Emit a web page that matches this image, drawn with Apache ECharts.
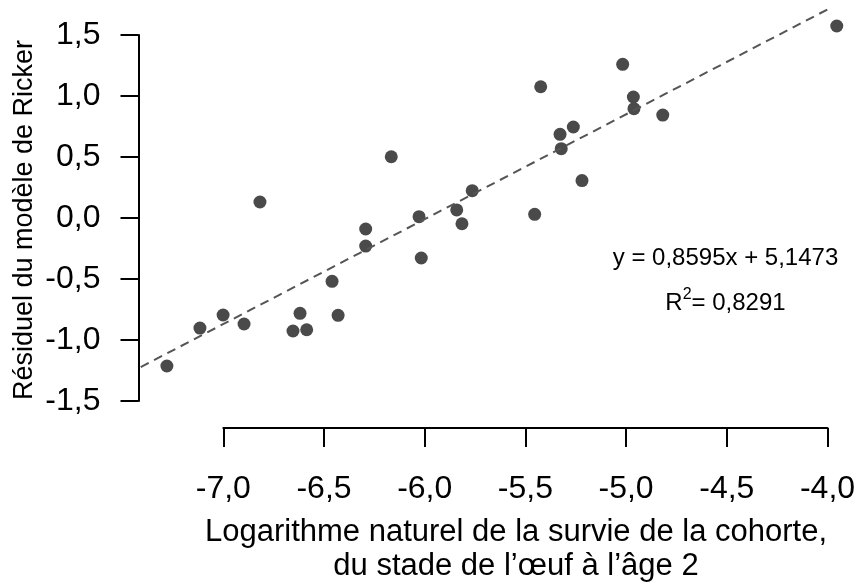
<!DOCTYPE html>
<html><head><meta charset="utf-8">
<script src="https://cdn.jsdelivr.net/npm/echarts@6/dist/echarts.min.js"></script>
<style>html,body{margin:0;padding:0;background:#fff}#c{width:860px;height:586px}</style>
</head><body><div id="c"></div>
<script>
// ---- data ----
const survieLog = [-7.280,-7.116,-7.001,-6.897,-6.818,-6.654,-6.619,-6.586,-6.460,-6.430,-6.293,-6.293,-6.166,-6.028,-6.017,-5.841,-5.815,-5.764,-5.454,-5.424,-5.328,-5.322,-5.262,-5.219,-5.017,-4.964,-4.961,-4.818,-3.954];
const residuRicker = [-1.213,-0.902,-0.795,-0.869,0.131,-0.926,-0.781,-0.916,-0.519,-0.798,-0.090,-0.230,0.502,0.011,-0.328,0.066,-0.047,0.224,0.030,1.076,0.686,0.568,0.746,0.307,1.260,0.992,0.896,0.844,1.574];
const xTicks = [-7,-6.5,-6,-5.5,-5,-4.5,-4];
const xTickLabels = ['-7,0','-6,5','-6,0','-5,5','-5,0','-4,5','-4,0'];
const yTicks = [-1.5,-1,-0.5,0,0.5,1,1.5];
const yTickLabels = ['-1,5','-1,0','-0,5','0,0','0,5','1,0','1,5'];
const slope = 0.8595, intercept = 5.1473;
const fitRange = [-7.41, -4.0];
const eqText = 'y = 0,8595x + 5,1473';
const r2Parts = ['R', '2', '= 0,8291'];
const xTitle = ['Logarithme naturel de la survie de la cohorte,', 'du stade de l\u2019\u0153uf \u00e0 l\u2019\u00e2ge 2'];
const yTitle = 'Résiduel du modèle de Ricker';

// ---- layout ----
const FONT = "'Liberation Sans', Arial, sans-serif";
const XPX0 = 223.3, XUNIT = 201.4;   // px of x=-7, px per unit
const YPX0 = 218, YUNIT = 122;       // px of y=0, px per unit
const W = 860;
const mainTop = 0, mainH = 380, mainLeft = 140;
const xmin = xTicks[0] - (XPX0 - mainLeft) / XUNIT;
const xmax = xTicks[0] + (W - XPX0) / XUNIT;
const ymax = (YPX0 - mainTop) / YUNIT;
const ymin = -(mainTop + mainH - YPX0) / YUNIT;

const pts = survieLog.map((x, i) => [x, residuRicker[i]]);
const fit = fitRange.map(x => [x, slope * x + intercept]);
const lab = (ticks, labels) => v => { const i = ticks.findIndex(t => Math.abs(t - v) < 1e-6); return i >= 0 ? labels[i] : ''; };
const centered = (extra) => Object.assign({ fill: '#000', align: 'center', verticalAlign: 'middle', textAlign: 'center', textVerticalAlign: 'middle' }, extra);

const chart = echarts.init(document.getElementById('c'), null, { renderer: 'canvas' });
chart.setOption({
  animation: false,
  backgroundColor: '#fff',
  grid: [
    { left: mainLeft, top: mainTop, width: W - mainLeft, height: mainH },
    { left: XPX0, top: 380, width: 3 * XUNIT, height: 48 },
    { left: 138.5, top: YPX0 - 1.5 * YUNIT, width: 10, height: 3 * YUNIT }
  ],
  xAxis: [
    { gridIndex: 0, type: 'value', min: xmin, max: xmax, show: false },
    { gridIndex: 1, type: 'value', min: -7, max: -4, interval: 0.5, position: 'bottom',
      axisLine: { show: true, onZero: false, lineStyle: { color: '#000', width: 2 } },
      axisTick: { show: true, length: 19, lineStyle: { color: '#000', width: 2 } },
      splitLine: { show: false },
      axisLabel: { margin: 45, fontSize: 32, fontFamily: FONT, color: '#000', formatter: lab(xTicks, xTickLabels), showMinLabel: true, showMaxLabel: true } },
    { gridIndex: 2, type: 'value', min: 0, max: 1, show: false }
  ],
  yAxis: [
    { gridIndex: 0, type: 'value', min: ymin, max: ymax, show: false },
    { gridIndex: 1, type: 'value', min: 0, max: 1, show: false },
    { gridIndex: 2, type: 'value', min: -1.5, max: 1.5, interval: 0.5, position: 'left',
      axisLine: { show: true, onZero: false, lineStyle: { color: '#000', width: 2 } },
      axisTick: { show: true, length: 18, lineStyle: { color: '#000', width: 2 } },
      splitLine: { show: false },
      axisLabel: { margin: 38, fontSize: 32, fontFamily: FONT, color: '#000', formatter: lab(yTicks, yTickLabels), showMinLabel: true, showMaxLabel: true } }
  ],
  series: [
    { type: 'line', xAxisIndex: 0, yAxisIndex: 0, data: fit, symbol: 'none', silent: true,
      lineStyle: { color: '#555', width: 2, type: [9, 6] } },
    { type: 'scatter', xAxisIndex: 0, yAxisIndex: 0, data: pts, symbolSize: 13,
      itemStyle: { color: '#4a4a4a', opacity: 1 } }
  ],
  graphic: [
    { type: 'text', x: 25, y: 220, rotation: Math.PI / 2,
      style: centered({ text: yTitle, font: '27px ' + FONT }) },
    { type: 'text', x: 516, y: 532,
      style: centered({ text: xTitle[0], font: '31px ' + FONT }) },
    { type: 'text', x: 516, y: 566,
      style: centered({ text: xTitle[1], font: '31px ' + FONT }) },
    { type: 'text', x: 725.5, y: 258,
      style: centered({ text: eqText, font: '24px ' + FONT }) },
    { type: 'text', x: 725.5, y: 301,
      style: centered({
        text: '{m|' + r2Parts[0] + '}{s|' + r2Parts[1] + '}{m|' + r2Parts[2] + '}',
        rich: {
          m: { fontSize: 24, fontFamily: FONT, fill: '#000', color: '#000', lineHeight: 28, verticalAlign: 'bottom' },
          s: { fontSize: 16, fontFamily: FONT, fill: '#000', color: '#000', lineHeight: 28, verticalAlign: 'top', padding: [0, 0, 8, 0] }
        }
      }) }
  ]
});
</script>
</body></html>
